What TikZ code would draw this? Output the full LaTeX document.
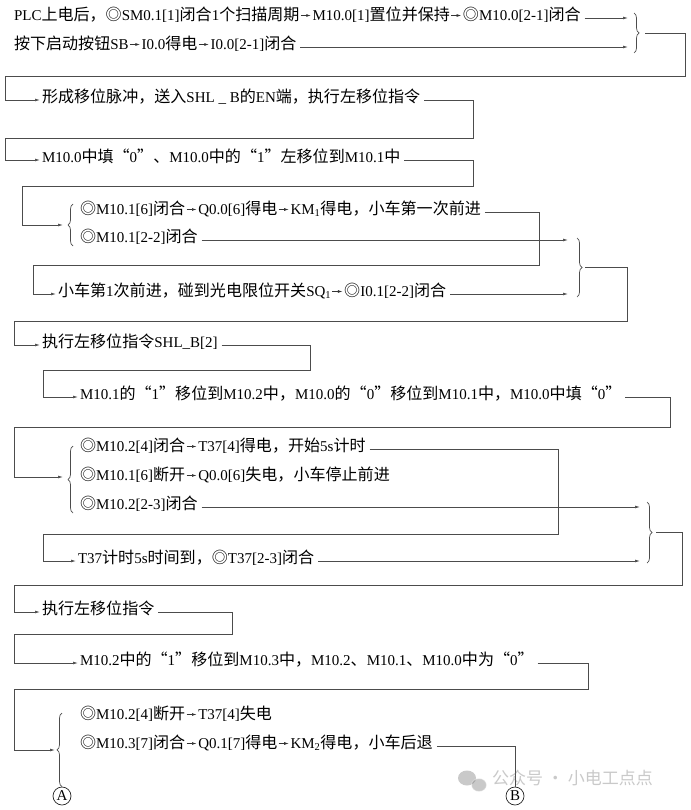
\documentclass[tikz,border=0pt]{standalone}
\usepackage{fontspec}
\setmainfont{Liberation Serif}
\newfontfamily\cjk{Noto Sans CJK SC}[Scale=1.07]
\newfontfamily\wmfont{Noto Sans CJK SC}
\usetikzlibrary{arrows.meta,decorations.pathreplacing,calc}
% automatic switch to the CJK font for Chinese characters
\XeTeXinterchartokenstate=1
\newcount\cjkcc
\def\cjkrange#1#2{\cjkcc=#1 \loop\XeTeXcharclass\cjkcc=10 \advance\cjkcc by 1 \ifnum\cjkcc<#2 \repeat}
\cjkrange{"3000}{"3040}
\cjkrange{"4E00}{"A000}
\cjkrange{"FF00}{"FFF0}
\XeTeXcharclass"25CE=10
\XeTeXcharclass"201C=10
\XeTeXcharclass"201D=10
\XeTeXinterchartoks 0 10 = {\cjk}
\XeTeXinterchartoks 1 10 = {\cjk}
\XeTeXinterchartoks 2 10 = {\cjk}
\XeTeXinterchartoks 3 10 = {\cjk}
\XeTeXinterchartoks 4095 10 = {\cjk}
\XeTeXinterchartoks 10 0 = {\rmfamily}
\XeTeXinterchartoks 10 1 = {\rmfamily}
\XeTeXinterchartoks 10 2 = {\rmfamily}
\XeTeXinterchartoks 10 3 = {\rmfamily}
\XeTeXinterchartoks 10 4095 = {\rmfamily}
% small inline arrow as printed in the text
\newcommand\ra{\hspace{1pt}\tikz[baseline={(0pt,-4.8pt)}]\draw[line width=0.55pt,black!80,-{Latex[length=4.5pt,width=2.8pt]}] (0pt,0pt) -- (10pt,0pt);\hspace{1.5pt}}
\tikzset{
  txt/.style={anchor=mid west, inner sep=0pt, outer sep=0pt, text=black, font=\fontsize{15}{17}\selectfont},
  ln/.style={draw=black!70, line width=0.7pt},
  arr/.style={ln, -{Latex[length=5pt,width=2.8pt]}},
  fromtxt/.style={shorten <=4pt},
  totxt/.style={shorten >=2pt},
  brc/.style={ln, decorate, decoration={brace, amplitude=5pt}},
  circ/.style={circle, draw=black!85, line width=0.7pt, minimum size=18pt, inner sep=0pt, font=\fontsize{15}{17}\selectfont},
}
\begin{document}
\begin{tikzpicture}[x=1pt,y=-1pt]
\useasboundingbox (0,0) rectangle (690,810);
\fill[white] (0,0) rectangle (690,810);

% ---- text rows ----
\node[txt] (t1) at (14,18) {PLC上电后，◎SM0.1[1]闭合1个扫描周期\ra M10.0[1]置位并保持\ra◎M10.0[2-1]闭合};
\node[txt] (t2) at (14,47) {按下启动按钮SB\ra I0.0得电\ra I0.0[2-1]闭合};
\node[txt] (t3) at (42,100) {形成移位脉冲，送入SHL \_ B的EN端，执行左移位指令};
\node[txt] (t4) at (42,160) {M10.0中填“0”、M10.0中的“1”左移位到M10.1中};
\node[txt] (t5a) at (80,212) {◎M10.1[6]闭合\ra Q0.0[6]得电\ra KM\textsubscript{1}得电，小车第一次前进};
\node[txt] (t5b) at (80,240) {◎M10.1[2-2]闭合};
\node[txt] (t6) at (58,294) {小车第1次前进，碰到光电限位开关SQ\textsubscript{1}\ra◎I0.1[2-2]闭合};
\node[txt] (t7) at (42,345) {执行左移位指令SHL\_B[2]};
\node[txt] (t8) at (80,397) {M10.1的“1”移位到M10.2中，M10.0的“0”移位到M10.1中，M10.0中填“0”};
\node[txt] (t9a) at (80,449) {◎M10.2[4]闭合\ra T37[4]得电，开始5s计时};
\node[txt] (t9b) at (80,478) {◎M10.1[6]断开\ra Q0.0[6]失电，小车停止前进};
\node[txt] (t9c) at (80,507) {◎M10.2[2-3]闭合};
\node[txt] (t10) at (78,561) {T37计时5s时间到，◎T37[2-3]闭合};
\node[txt] (t11) at (42,612) {执行左移位指令};
\node[txt] (t12) at (80,663) {M10.2中的“1”移位到M10.3中，M10.2、M10.1、M10.0中为“0”};
\node[txt] (t13a) at (80,717) {◎M10.2[4]断开\ra T37[4]失电};
\node[txt] (t13b) at (80,746) {◎M10.3[7]闭合\ra Q0.1[7]得电\ra KM\textsubscript{2}得电，小车后退};

\node[circ] (A) at (62,796) {A};
\node[circ] (B) at (515,796) {B};

% ---- brace points ----
\coordinate (b1in1) at (628,18);  \coordinate (b1in2) at (628,47);  \coordinate (b1out) at (645,33);
\coordinate (b2in1) at (568,240); \coordinate (b2in2) at (568,294); \coordinate (b2out) at (585,267);
\coordinate (b3in) at (63,225);
\coordinate (b4in) at (63,477);
\coordinate (b5in1) at (640,507); \coordinate (b5in2) at (640,561); \coordinate (b5out) at (656,532);
\coordinate (b6in) at (55,750);

% ---- braces ----
\draw[brc] (634,13) -- (634,53);
\draw[brc] (577,238) -- (577,297);
\draw[brc] (73,246) -- (73,204);
\draw[brc] (73,513) -- (73,446);
\draw[brc] (647,502) -- (647,563);
\draw[brc] (A.north) -- (62,713);

% ---- connectors ----
\draw[arr,fromtxt] (t1.mid east) -- (b1in1);
\draw[arr,fromtxt] (t2.mid east) -- (b1in2);
\draw[arr,totxt] (b1out) -- (685,33) |- (5,76) |- (t3.mid west);
\draw[arr,fromtxt,totxt] (t3.mid east) -- (473,100) |- (5,138) |- (t4.mid west);
\draw[arr,fromtxt] (t4.mid east) -- (473,160) |- (22,186) |- (b3in);
\draw[arr,fromtxt,totxt] (t5a.mid east) -- (539,212) |- (33,265) |- (t6.mid west);
\draw[arr,fromtxt] (t5b.mid east) -- (b2in1);
\draw[arr,fromtxt] (t6.mid east) -- (b2in2);
\draw[arr,totxt] (b2out) -- (627,267) |- (14,321) |- (t7.mid west);
\draw[arr,fromtxt,totxt] (t7.mid east) -- (310,345) |- (43,370) |- (t8.mid west);
\draw[arr,fromtxt] (t8.mid east) -- (670,397) |- (14,427) |- (b4in);
\draw[arr,fromtxt,totxt] (t9a.mid east) -- (558,449) |- (43,534) |- (t10.mid west);
\draw[arr,fromtxt] (t9c.mid east) -- (b5in1);
\draw[arr,fromtxt] (t10.mid east) -- (b5in2);
\draw[arr,totxt] (b5out) -- (682,532) |- (14,585) |- (t11.mid west);
\draw[arr,fromtxt,totxt] (t11.mid east) -- (232,612) |- (14,634) |- (t12.mid west);
\draw[arr,fromtxt] (t12.mid east) -- (588,663) |- (14,689) |- (b6in);
\draw[ln,fromtxt] (t13b.mid east) -- (515,746) -- (B.north);

% ---- watermark ----
\begin{scope}[opacity=0.35]
\fill[black!60] (467,778) ellipse (9 and 7.5);
\fill[black!60,draw=white,line width=1pt] (479,785) ellipse (7.5 and 6.5);
\node[anchor=mid west, inner sep=0pt, text=black!60, font={\XeTeXinterchartokenstate=0 \wmfont\fontsize{17}{17}\selectfont}] (wm) at (492,782) {公众号 · 小电工点点};
\end{scope}
\end{tikzpicture}
\end{document}
